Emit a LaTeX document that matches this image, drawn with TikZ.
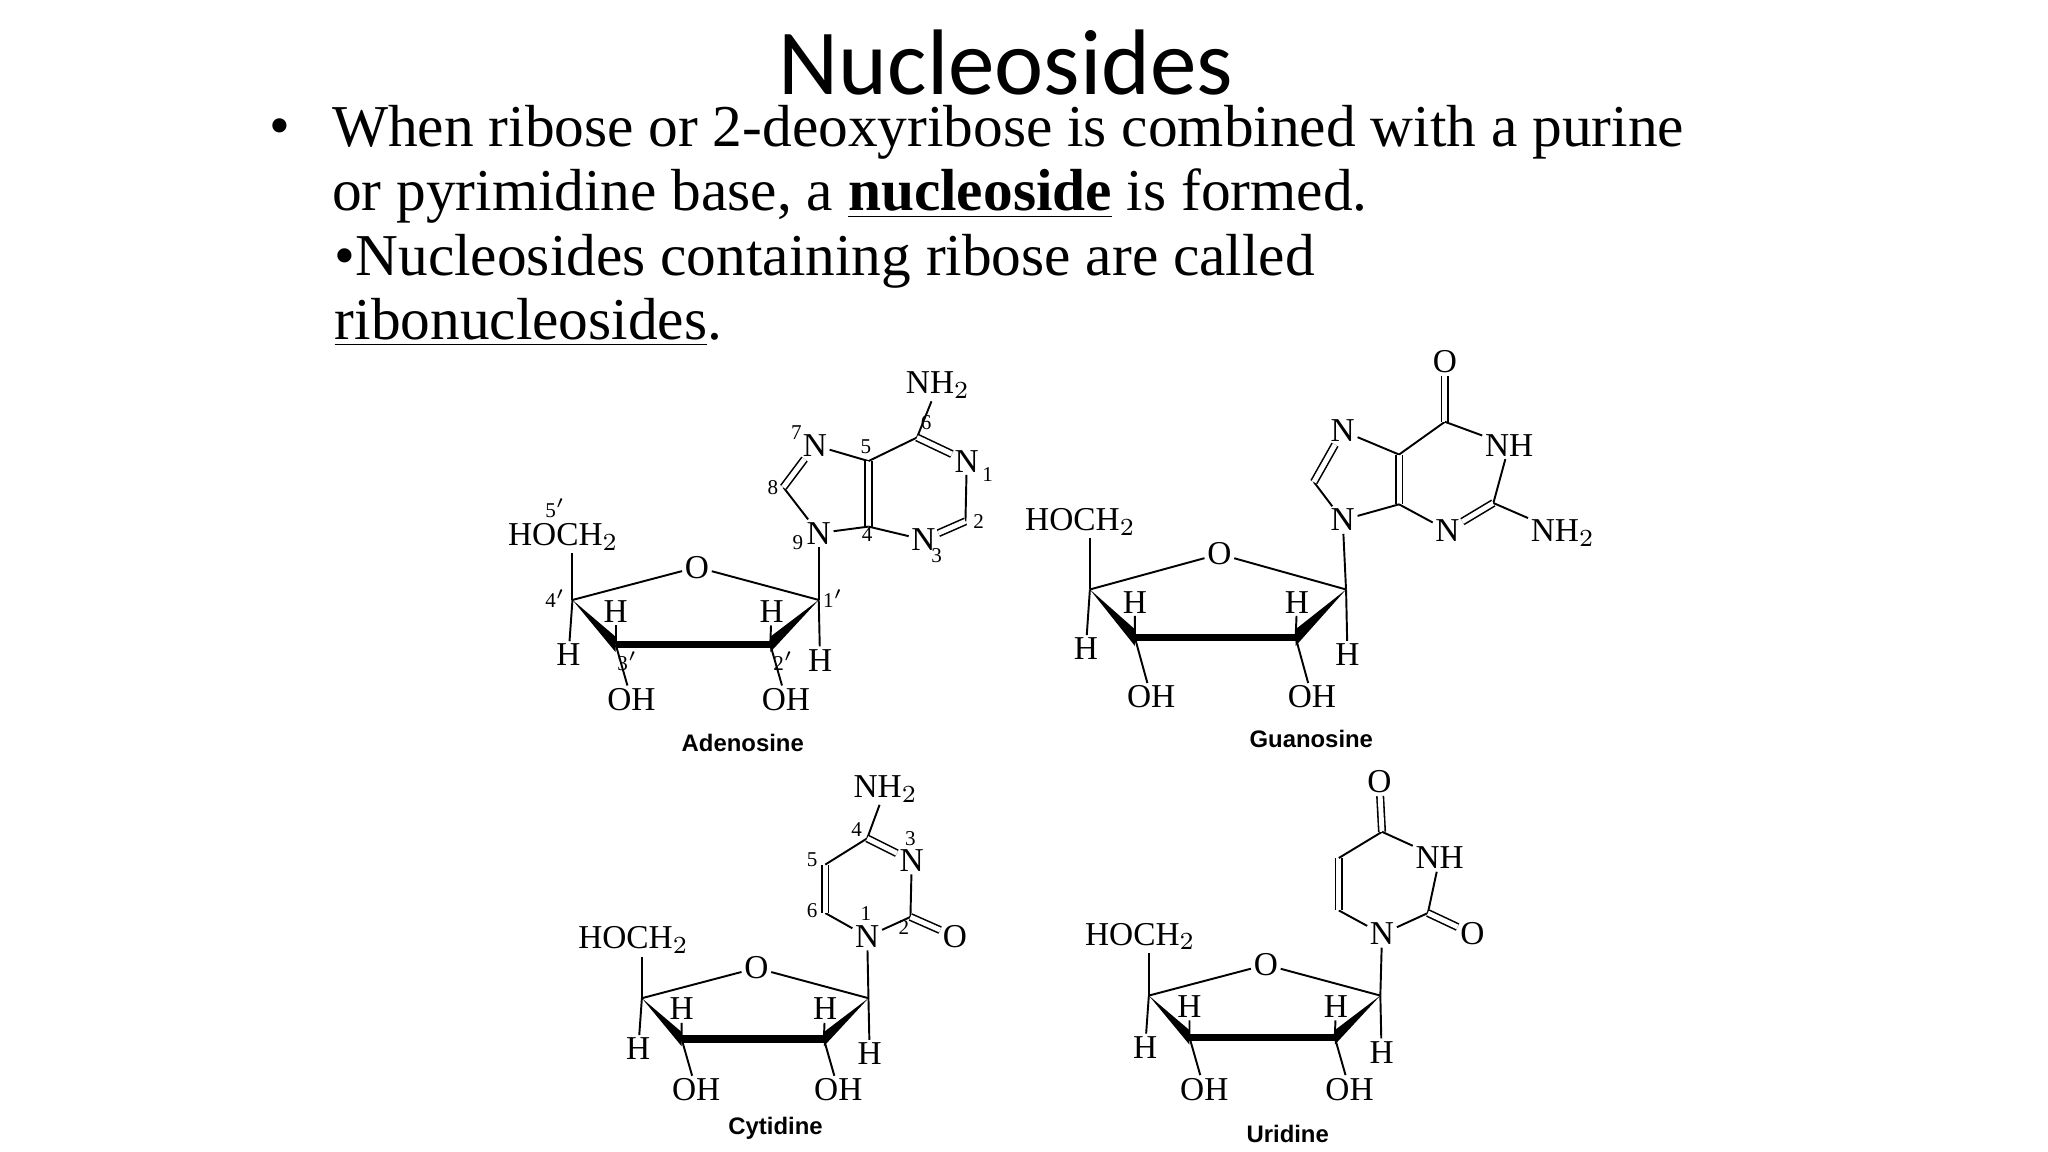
\documentclass[tikz,border=0pt]{standalone}
\usepackage{fontspec}
\setmainfont{Liberation Serif}
\newfontfamily\titlefont{Carlito}
\newfontfamily\capfont{Liberation Sans}
\begin{document}
\begin{tikzpicture}[x=0.0131cm,y=-0.0131cm,
  atom/.style={inner sep=0.6pt,font=\fontsize{9.5}{10}\selectfont},
  num/.style={inner sep=0pt,font=\fontsize{6}{6}\selectfont},
  bond/.style={line width=0.55pt},
  dbl/.style={double,double distance=1.4pt,line width=0.45pt},
  captext/.style={font=\capfont\bfseries\fontsize{6.8}{7}\selectfont},
  body/.style={anchor=base west,inner sep=0pt,font=\fontsize{16.9}{18}\selectfont}]
\useasboundingbox (0,0) rectangle (1563.4,879.4);
\node[font=\titlefont\fontsize{26.5}{28}\selectfont] (title) at (768,48) {Nucleosides};
\node[inner sep=0pt,font=\fontsize{16.9}{18}\selectfont] (bul) at (214,101) {•};
\node[body] (l1) at (253,112) {When ribose or 2-deoxyribose is combined with a purine};
\node[body] (l2) at (253,161) {or pyrimidine base, a \underline{\textbf{nucleoside}} is formed.};
\node[body] (l3) at (255,210) {•Nucleosides containing ribose are called};
\node[body] (l4) at (255,259) {\underline{ribonucleosides}.};
\newcommand\ribose[5]{%
\begin{scope}[shift={(#2,#3)},xscale=#4,yscale=#5]
 \coordinate (#1c4) at (0,0); \coordinate (#1c1) at (188,0);
 \coordinate (#1c3) at (33,34); \coordinate (#1c2) at (151,34);
 \node[atom] (#1o) at (95,-25) {O};
 \node[atom] (#1hoch) at (-7,-48) {HOCH$_2$};
 \node[atom] (#1hi3) at (33,9) {H};
 \node[atom] (#1hi2) at (152,9) {H};
 \node[atom] (#1h4) at (-3,42) {H};
 \node[atom] (#1oh3) at (45,76) {OH};
 \node[atom] (#1oh2) at (163,76) {OH};
 \node[atom] (#1h1) at (189,46) {H};
 \draw[bond] (#1c4) -- (#1hoch.south -| #1c4);
 \draw[bond] (#1c4) -- (#1o) -- (#1c1);
 \fill (#1c4) -- ([yshift=-2.2]#1c3) -- ([yshift=2.2]#1c3) -- cycle;
 \draw[line width=2.2pt] (#1c3) -- (#1c2);
 \fill (#1c1) -- ([yshift=-2.2]#1c2) -- ([yshift=2.2]#1c2) -- cycle;
 \draw[bond] (#1c3) -- (#1hi3); \draw[bond] (#1c2) -- (#1hi2);
 \draw[bond] (#1c4) -- (#1h4); \draw[bond] (#1c3) -- (#1oh3);
 \draw[bond] (#1c2) -- (#1oh2); \draw[bond] (#1c1) -- (#1h1);
\end{scope}}
% ---------- Adenosine
\ribose{a}{437}{458}{1}{1}
\node[atom] (an9) at (625,407) {N};
\coordinate (ac8) at (598,372);
\node[atom] (an7) at (622,340) {N};
\coordinate (ac5) at (663,352);
\coordinate (ac4) at (663,402);
\coordinate (ac6) at (700,334);
\node[atom] (anh2) at (716,294) {NH$_2$};
\node[atom] (an1) at (738,352) {N};
\coordinate (ac2) at (737,398);
\node[atom] (an3) at (705,412) {N};
\draw[bond] (ac1) -- (an9);
\draw[bond] (an9) -- (ac8); \draw[dbl] (ac8) -- (an7); \draw[bond] (an7) -- (ac5);
\draw[dbl] (ac5) -- (ac4); \draw[bond] (ac4) -- (an9); \draw[bond] (ac5) -- (ac6);
\draw[bond] (ac6) -- (anh2); \draw[dbl] (ac6) -- (an1); \draw[bond] (an1) -- (ac2);
\draw[dbl] (ac2) -- (an3); \draw[bond] (an3) -- (ac4);
\node[num] (n7) at (608,330) {7}; \node[num] (n5) at (661,341) {5};
\node[num] (n6) at (707,323) {6}; \node[num] (n1) at (754,362) {1};
\node[num] (n2) at (747,398) {2}; \node[num] (n3) at (715,424) {3};
\node[num] (n4) at (662,408) {4}; \node[num] (n8) at (590,372) {8};
\node[num] (n9) at (609,414) {9}; \node[num] (n5p) at (424,388) {5$'$};
\node[num] (n4p) at (424,457) {4$'$}; \node[num] (n3p) at (479,505) {3$'$};
\node[num] (n2p) at (598,505) {2$'$}; \node[num] (n1p) at (636,457) {1$'$};
\node[captext] (capA) at (567,567) {Adenosine};
% ---------- Guanosine
\ribose{g}{832}{450}{1.04}{1.08}
\node[atom] (gn9) at (1025,397) {N};
\coordinate (gc8) at (1003,368);
\node[atom] (gn7) at (1025,329) {N};
\coordinate (gc5) at (1068,347);
\coordinate (gc4) at (1068,385);
\coordinate (gc6) at (1103,322);
\node[atom] (go6) at (1103,276) {O};
\node[atom] (gn1) at (1152,340) {NH};
\coordinate (gc2) at (1140,384);
\node[atom] (gn3) at (1105,405) {N};
\node[atom] (gnh2) at (1193,407) {NH$_2$};
\draw[bond] (gc1) -- (gn9);
\draw[bond] (gn9) -- (gc8); \draw[dbl] (gc8) -- (gn7); \draw[bond] (gn7) -- (gc5);
\draw[dbl] (gc5) -- (gc4); \draw[bond] (gc4) -- (gn9); \draw[bond] (gc5) -- (gc6);
\draw[dbl] (gc6) -- (go6); \draw[bond] (gc6) -- (gn1); \draw[bond] (gn1) -- (gc2);
\draw[dbl] (gc2) -- (gn3); \draw[bond] (gn3) -- (gc4); \draw[bond] (gc2) -- (gnh2);
\node[captext] (capG) at (1001,564) {Guanosine};
% ---------- Cytidine
\ribose{c}{490}{762}{0.92}{0.92}
\node[atom] (cn1) at (662,715) {N};
\coordinate (cc6) at (630,697);
\coordinate (cc5) at (630,660);
\coordinate (cc4) at (662,640);
\node[atom] (cnh2) at (676,602) {NH$_2$};
\node[atom] (cn3) at (696,657) {N};
\coordinate (cc2) at (695,700);
\node[atom] (co2) at (729,715) {O};
\draw[bond] (cc1) -- (cn1);
\draw[bond] (cn1) -- (cc6); \draw[dbl] (cc6) -- (cc5); \draw[bond] (cc5) -- (cc4);
\draw[bond] (cc4) -- (cnh2); \draw[dbl] (cc4) -- (cn3); \draw[bond] (cn3) -- (cc2);
\draw[bond] (cc2) -- (cn1); \draw[dbl] (cc2) -- (co2);
\node[num] (m4) at (654,633) {4}; \node[num] (m3) at (695,640) {3};
\node[num] (m5) at (620,656) {5}; \node[num] (m6) at (620,695) {6};
\node[num] (m1) at (661,697) {1}; \node[num] (m2) at (690,708) {2};
\node[captext] (capC) at (592,861) {Cytidine};
% ---------- Uridine
\ribose{u}{877}{760}{0.94}{0.94}
\node[atom] (un1) at (1055,713) {N};
\coordinate (uc6) at (1022,695);
\coordinate (uc5) at (1022,655);
\coordinate (uc4) at (1055,635);
\node[atom] (uo4) at (1053,597) {O};
\node[atom] (un3) at (1099,655) {NH};
\coordinate (uc2) at (1090,697);
\node[atom] (uo2) at (1124,713) {O};
\draw[bond] (uc1) -- (un1);
\draw[bond] (un1) -- (uc6); \draw[dbl] (uc6) -- (uc5); \draw[bond] (uc5) -- (uc4);
\draw[dbl] (uc4) -- (uo4); \draw[bond] (uc4) -- (un3); \draw[bond] (un3) -- (uc2);
\draw[bond] (uc2) -- (un1); \draw[dbl] (uc2) -- (uo2);
\node[captext] (capU) at (983,866) {Uridine};
\end{tikzpicture}
\end{document}
